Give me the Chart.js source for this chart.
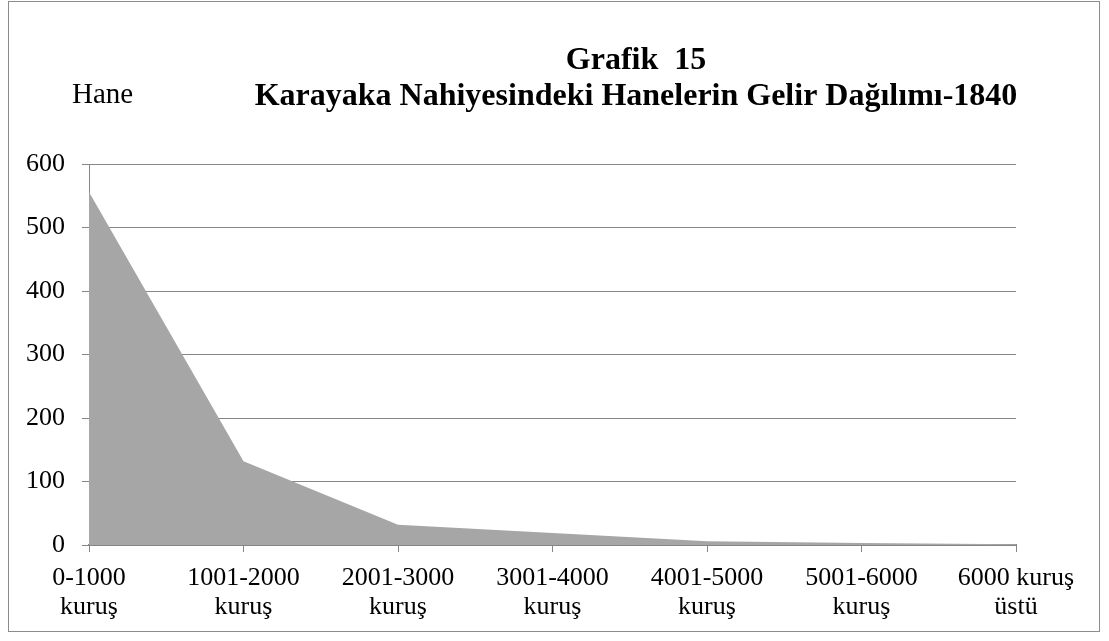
<!DOCTYPE html>
<html>
<head>
<meta charset="utf-8">
<script src="https://cdn.jsdelivr.net/npm/chart.js@4/dist/chart.umd.min.js"></script>
<style>
html,body{margin:0;padding:0;background:#fff;}
#wrap{position:relative;width:1109px;height:641px;}
#frame{position:absolute;left:8px;top:1px;width:1092px;height:631px;border:1px solid #8c8c8c;box-sizing:border-box;pointer-events:none;}
canvas{position:absolute;left:0;top:0;}
</style>
</head>
<body>
<div id="wrap"><canvas id="c" width="1109" height="641"></canvas><div id="frame"></div></div>
<script>
const categories = [
  ['0-1000','kuruş'],
  ['1001-2000','kuruş'],
  ['2001-3000','kuruş'],
  ['3001-4000','kuruş'],
  ['4001-5000','kuruş'],
  ['5001-6000','kuruş'],
  ['6000 kuruş','üstü']
];
const households = [556, 132, 32, 19, 6, 3, 1];
const titleLines = ['Grafik  15', 'Karayaka Nahiyesindeki Hanelerin Gelir Dağılımı-1840'];
const yAxisLabel = 'Hane';

const FONT = "'Liberation Serif','Times New Roman',serif";

const textPlugin = {
  id: 'texts',
  afterDraw(chart) {
    const ctx = chart.ctx;
    ctx.save();
    ctx.fillStyle = '#000';
    ctx.textBaseline = 'alphabetic';
    ctx.textAlign = 'center';
    ctx.font = 'bold 32px ' + FONT;
    ctx.fillText(titleLines[0], 636, 69);
    ctx.fillText(titleLines[1], 636, 105);
    ctx.font = '29px ' + FONT;
    ctx.textAlign = 'left';
    ctx.fillText(yAxisLabel, 72, 103);
    ctx.restore();
  }
};

new Chart(document.getElementById('c'), {
  type: 'line',
  data: {
    labels: categories,
    datasets: [{
      data: households,
      fill: 'origin',
      backgroundColor: '#a6a6a6',
      borderWidth: 0,
      borderColor: 'rgba(0,0,0,0)',
      pointRadius: 0,
      tension: 0
    }]
  },
  options: {
    responsive: false,
    animation: false,
    devicePixelRatio: 1,
    layout: { padding: { left: 0, right: 93, top: 164, bottom: 11 } },
    plugins: { legend: { display: false }, tooltip: { enabled: false }, title: { display: false } },
    scales: {
      x: {
        offset: false,
        grid: { display: true, drawOnChartArea: false, drawTicks: true, tickLength: 7, color: '#868686', lineWidth: 1 },
        border: { display: true, color: '#868686', width: 2 },
        ticks: { color: '#000', font: { family: FONT, size: 26, lineHeight: 1.13 }, padding: 11, maxRotation: 0, autoSkip: false },
        afterFit(s) { s.height = 85; }
      },
      y: {
        min: 0, max: 600,
        grid: { color: '#868686', lineWidth: 1, drawTicks: true, tickLength: 7 },
        border: { display: true, color: '#868686', width: 1 },
        ticks: { stepSize: 100, color: '#000', font: { family: FONT, size: 26 }, padding: 17 },
        afterFit(s) { s.width = 89; }
      }
    }
  },
  plugins: [textPlugin]
});
</script>
</body>
</html>
